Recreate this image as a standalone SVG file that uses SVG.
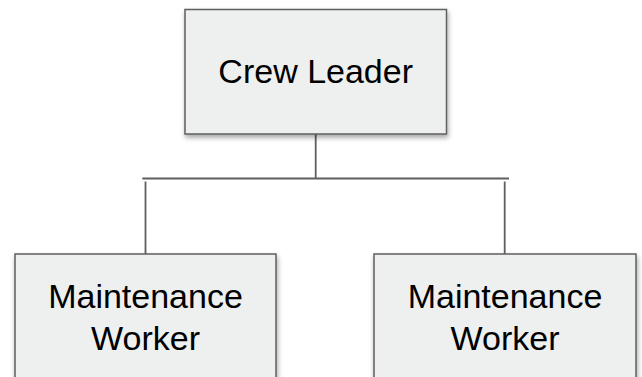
<svg xmlns="http://www.w3.org/2000/svg" width="642" height="377" viewBox="0 0 642 377">
<style>
.box{fill:#eeefef;stroke:#5f5f5f;stroke-width:1.5;filter:url(#sh)}
.lbl{font-family:"Liberation Sans",Arial,sans-serif;font-size:34px;fill:#000;text-anchor:middle}
.ln{stroke:#5f5f5f;stroke-width:1.8;fill:none}
</style>
<defs>
<filter id="sh" x="-10%" y="-10%" width="130%" height="140%">
<feDropShadow dx="1" dy="3" stdDeviation="2.5" flood-color="#000" flood-opacity="0.35"/>
</filter>
</defs>
<g id="connectors">
<path class="ln" d="M315.7 134V178.5M142.3 178.5H509M145.5 181.5V254M504.7 181.5V254"/>
</g>
<g id="crew-leader">
<rect class="box" x="185" y="9.5" width="261.5" height="124.5"/>
<text class="lbl" x="315.7" y="83">Crew Leader</text>
</g>
<g id="worker-left">
<rect class="box" x="15" y="254" width="261" height="140"/>
<text class="lbl" x="145.5" y="308">Maintenance</text>
<text class="lbl" x="145.5" y="350">Worker</text>
</g>
<g id="worker-right">
<rect class="box" x="374" y="254" width="262" height="140"/>
<text class="lbl" x="505" y="308">Maintenance</text>
<text class="lbl" x="505" y="350">Worker</text>
</g>
</svg>
